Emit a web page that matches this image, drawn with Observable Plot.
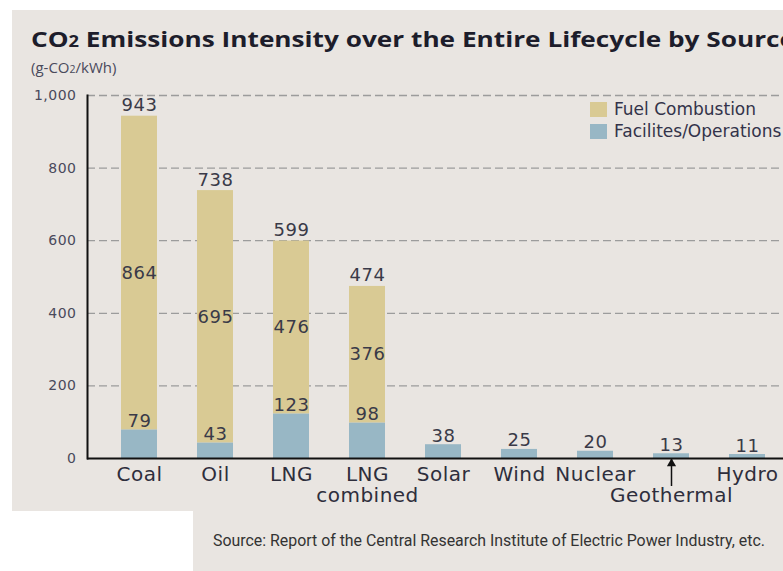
<!DOCTYPE html>
<html><head><meta charset="utf-8">
<script src="https://cdn.jsdelivr.net/npm/d3@7"></script>
<script src="https://cdn.jsdelivr.net/npm/@observablehq/plot@0.6"></script>
<style>
html,body{margin:0;padding:0;background:#fff;overflow:hidden}
#wrap{position:relative;width:783px;height:571px;overflow:hidden;background:#fff}
.panel{position:absolute;background:#e9e5e1}
#title{position:absolute;left:31px;top:27px;font:700 22px/22px "Open Sans",sans-serif;color:#1d1d2b;white-space:nowrap;transform-origin:0 0}
#unit{position:absolute;left:31px;top:60px;font:400 15px/15px "Open Sans",sans-serif;color:#4a4a5c;white-space:nowrap}
#chart{position:absolute;left:0;top:80px;width:800px}
#chart svg{max-width:none}
#chart svg text{letter-spacing:0.5px}
.leg{position:absolute;left:590px;font:400 17px/17px "DejaVu Sans",sans-serif;color:#33334a;white-space:nowrap}
.leg span{display:inline-block;width:17px;height:15px;vertical-align:-2px;margin-right:7px}
#source{position:absolute;left:213px;top:532px;font:400 17px/17px Roboto,sans-serif;color:#333;white-space:nowrap;transform-origin:0 0}
</style></head>
<body>
<div id="wrap">
  <div class="panel" style="left:12px;top:10px;width:771px;height:501px"></div>
  <div class="panel" style="left:193px;top:511px;width:590px;height:60px"></div>
  <div id="title">CO<span style="font-size:70%">2</span> Emissions Intensity over the Entire Lifecycle by Source</div>
  <div id="unit">(g-CO<span style="font-size:70%">2</span>/kWh)</div>
  <div id="chart"></div>
  <div class="leg" id="leg0" style="top:101px"></div>
  <div class="leg" id="leg1" style="top:123px"></div>
  <div id="source">Source: Report of the Central Research Institute of Electric Power Industry, etc.</div>
</div>
<script>
const categories = ["Coal","Oil","LNG","LNG combined","Solar","Wind","Nuclear","Geothermal","Hydro"];
const xLabels = ["Coal","Oil","LNG","LNG\ncombined","Solar","Wind","Nuclear","\nGeothermal","Hydro"];
const fuel = [864,695,476,376,0,0,0,0,0];
const facilities = [79,43,123,98,38,25,20,13,11];
const totals = [943,738,599,474,38,25,20,13,11];
const yTicks = [0,200,400,600,800,1000];
const seriesNames = ["Facilites/Operations","Fuel Combustion"];
const seriesColors = ["#98b7c5","#d9ca94"];
const arrowCategory = "Geothermal";

const rows = categories.flatMap((c,i)=>[
  {cat:c, series:seriesNames[0], value:facilities[i]},
  {cat:c, series:seriesNames[1], value:fuel[i]}
]);
const fossil = categories.map((c,i)=>({cat:c, fuel:fuel[i], fac:facilities[i], total:totals[i]})).filter(d=>d.fuel>0);
const allCats = categories.map((c,i)=>({cat:c, fac:facilities[i]}));

const textColor = "#3a3a48";
const plot = Plot.plot({
  width: 798, height: 430,
  marginTop: 15, marginBottom: 52, marginLeft: 87, marginRight: 0,
  style: {background:"transparent", fontFamily:"DejaVu Sans", overflow:"visible", maxWidth:"none"},
  x: {domain: categories, paddingInner: 0.53, paddingOuter: 0.419, axis: null},
  y: {domain: [0,1000], axis: null},
  color: {domain: seriesNames, range: seriesColors},
  marks: [
    Plot.gridY(yTicks.filter(d=>d>0), {stroke:"#9c9c9c", strokeOpacity:1, strokeWidth:1.3, strokeDasharray:"8,4"}),
    Plot.axisY(yTicks, {tickSize:0, tickPadding:11, tickFormat:d3.format(","), fontSize:14, color:"#4a4a5c", label:null}),
    Plot.barY(rows, {x:"cat", y:"value", fill:"series"}),
    Plot.text(fossil, {x:"cat", y:d=>d.fac + d.fuel/2, text:"fuel", fontSize:18, fill:textColor, lineAnchor:"middle"}),
    Plot.text(allCats, {x:"cat", y:"fac", text:"fac", fontSize:18, fill:textColor, lineAnchor:"bottom", dy:-3}),
    Plot.text(fossil, {x:"cat", y:"total", text:"total", fontSize:18, fill:textColor, lineAnchor:"bottom", dy:-5}),
    Plot.frame({anchor:"left", stroke:"#111", strokeWidth:2}),
    Plot.ruleY([0], {stroke:"#111", strokeWidth:2}),
    Plot.text(categories, {x:d=>d, text:(d,i)=>xLabels[i], frameAnchor:"bottom", lineAnchor:"top", dy:7, fontSize:20, lineHeight:1.08, fill:"#2e2e3c"}),
    Plot.axisX([arrowCategory], {tickSize:28, tickFormat:()=>"", stroke:"#111", strokeWidth:1.5, label:null}),
    Plot.dot([arrowCategory], {x:d=>d, frameAnchor:"bottom", symbol:"triangle", r:3.4, fill:"#111", stroke:null, dy:5})
  ]
});
document.getElementById("chart").appendChild(plot);

// legend
[1,0].forEach((si,k)=>{
  const el = document.getElementById("leg"+k);
  el.innerHTML = `<span style="background:${seriesColors[si]}"></span>${seriesNames[si]}`;
});

// fit text widths to the reference
function fit(id, target){
  const el = document.getElementById(id);
  const w = el.getBoundingClientRect().width;
  el.style.transform = `scaleX(${target/w})`;
}
fit("source", 552);
fit("title", 764);
</script>
</body></html>
